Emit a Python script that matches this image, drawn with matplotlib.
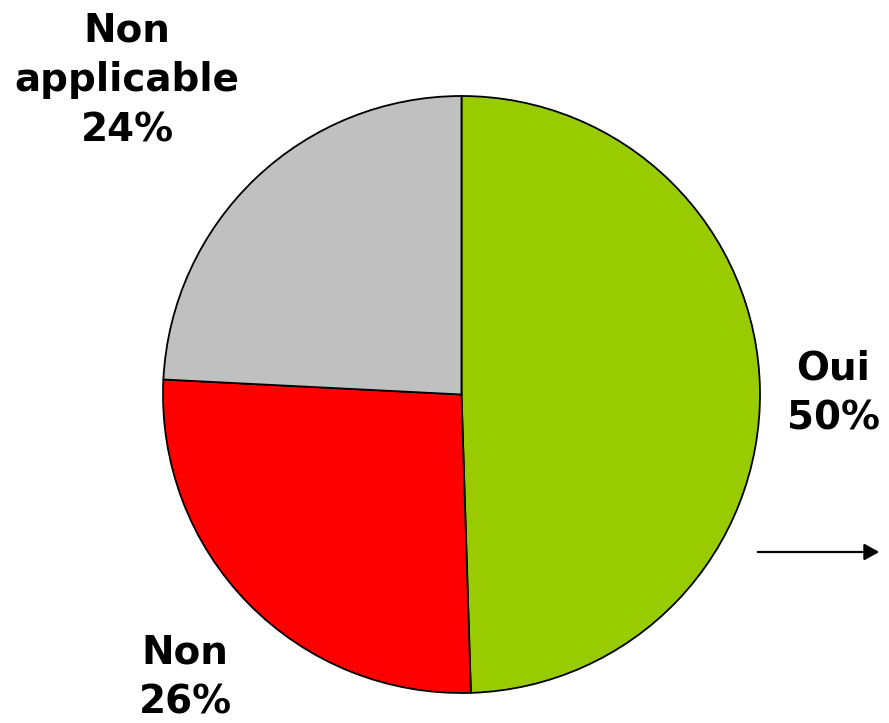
import matplotlib.pyplot as plt

# Répartition des réponses (en %)
categories = ['Oui', 'Non', 'Non\napplicable']
values = [49.5, 26.3, 24.2]
colors = ['#99CC00', '#FF0000', '#C0C0C0']

# position des étiquettes (pixels, origine en bas à gauche)
label_pos = [(833, 330), (185, 46), (127, 643)]

plt.rcParams['font.family'] = ['DejaVu Sans']

fig = plt.figure(figsize=(8.89, 7.23), dpi=100)
ax = fig.add_axes([0, 0, 1, 1])

ax.pie(values, colors=colors, startangle=90, counterclock=False,
       center=(461.5, 328.5), radius=298.5,
       wedgeprops=dict(edgecolor='black', linewidth=1.3))

# pie() impose ses propres limites : on les remet en pixels
ax.set_xlim(0, 889)
ax.set_ylim(0, 723)
ax.set_aspect('equal')
ax.axis('off')

for cat, val, (x, y) in zip(categories, values, label_pos):
    ax.text(x, y, f"{cat}\n{val:.0f}%", ha='center', va='center',
            fontsize=28, fontweight='bold', linespacing=1.4)

# flèche à droite
ax.annotate('', xy=(882, 171), xytext=(755, 171),
            arrowprops=dict(arrowstyle='-|>,head_length=0.9,head_width=0.5',
                            color='black', linewidth=1.6))

fig.savefig('out.png', dpi=100)
